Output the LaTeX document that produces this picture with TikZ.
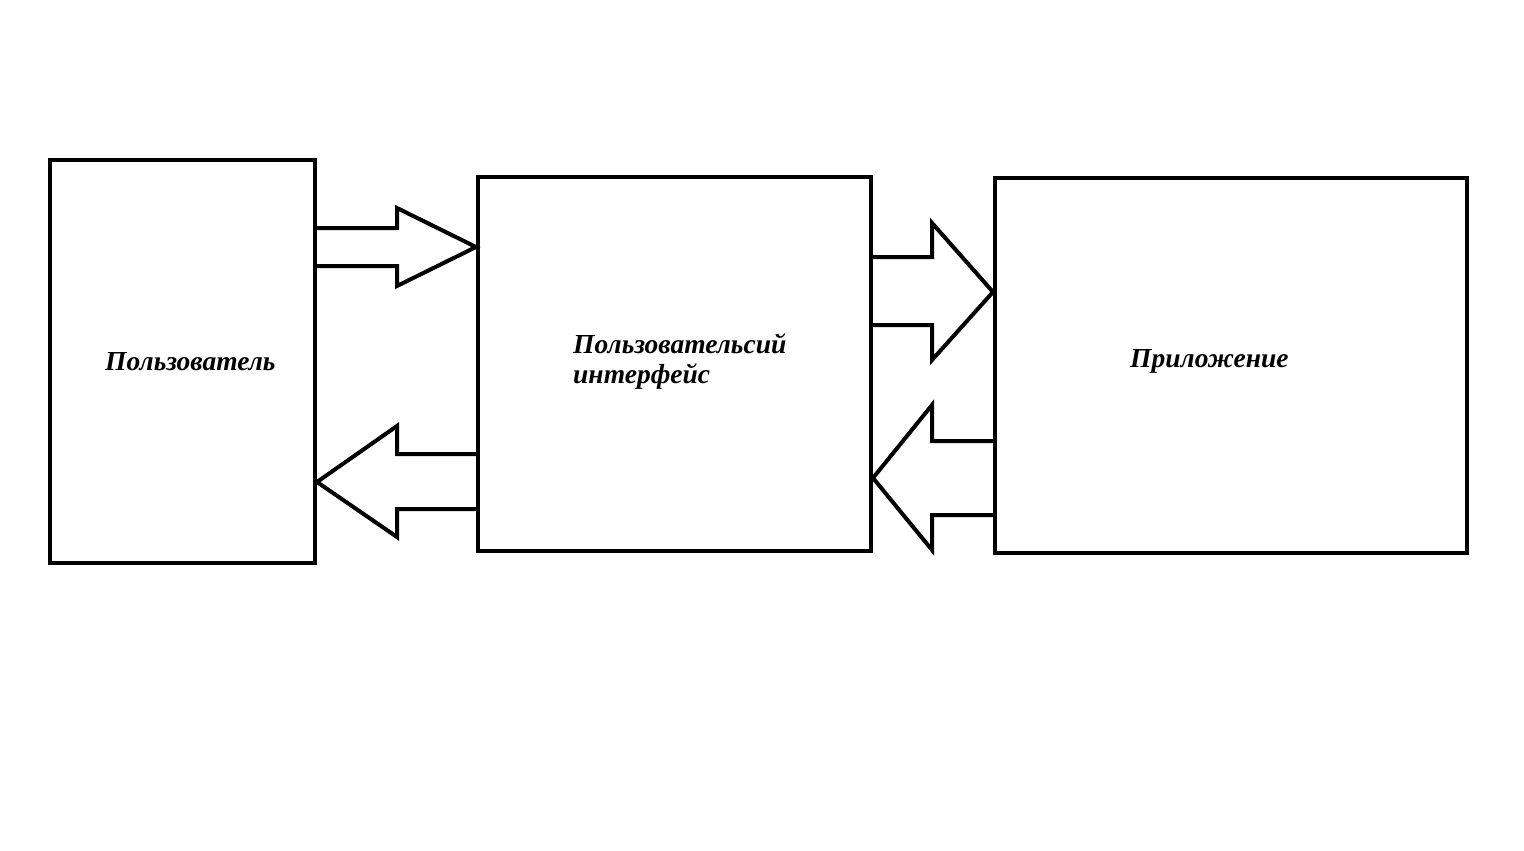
\documentclass[tikz,border=0pt]{standalone}
\usepackage{fontspec}
\setmainfont{Liberation Serif}
\usetikzlibrary{calc}

\begin{document}
\begin{tikzpicture}[
        x=1pt, y=-1pt,
        block/.style={
            rectangle,
            draw,
            line width=4pt,
            inner sep=0pt,
        },
        label/.style={
            inner sep=0pt,
            font=\fontsize{27.5}{30}\selectfont\bfseries\itshape,
            align=left,
        },
        fat/.style={
            draw,
            line width=4pt,
            line join=miter,
        },
    ]

    \useasboundingbox (0,0) rectangle (1524,851);

    \node (user) at (182.5,361.5) [block, minimum width=265pt, minimum height=403pt] {};
    \node (ui) at (674.5,364) [block, minimum width=393pt, minimum height=374pt] {};
    \node (app) at (1231,365.5) [block, minimum width=472pt, minimum height=375pt] {};

    \node (userText) at (105,370) [label, anchor=base west] {Пользователь};
    \node (uiText) at (573,383) [label, anchor=base west] {Пользовательсий\\интерфейс};
    \node (appText) at (1130,367) [label, anchor=base west] {Приложение};

    \draw [fat] (user.east |- 0,228) -- (397,228) -- (397,208) -- (ui.west |- 0,247)
        -- (397,286) -- (397,266) -- (user.east |- 0,266);
    \draw [fat] (ui.west |- 0,454) -- (397,454) -- (397,426) -- (user.east |- 0,482)
        -- (397,537) -- (397,509) -- (ui.west |- 0,509);

    \draw [fat] (ui.east |- 0,257) -- (932,257) -- (932,223) -- (app.west |- 0,292)
        -- (932,360) -- (932,325) -- (ui.east |- 0,325);
    \draw [fat] (app.west |- 0,441) -- (932,441) -- (932,405) -- (ui.east |- 0,478)
        -- (932,550) -- (932,515) -- (app.west |- 0,515);

\end{tikzpicture}
\end{document}
